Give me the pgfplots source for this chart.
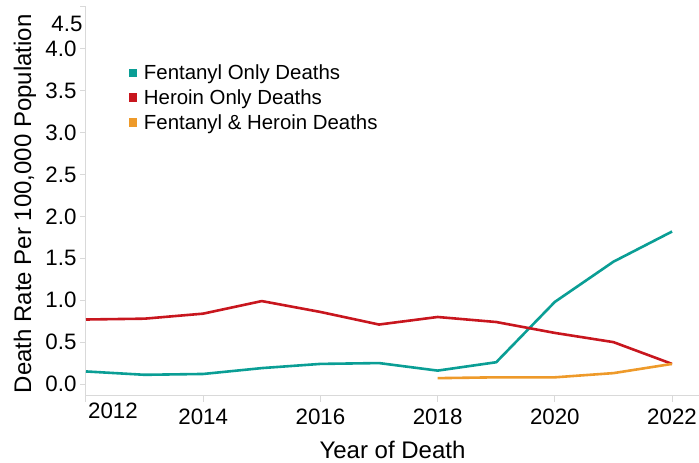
\documentclass[border=0pt]{standalone}
\usepackage{fontspec}
\setmainfont{Liberation Sans}
\usepackage{pgfplots}
\pgfplotsset{compat=1.18}
\definecolor{cfent}{RGB}{10,158,149}
\definecolor{cher}{RGB}{200,22,30}
\definecolor{cboth}{RGB}{238,154,42}
\definecolor{cax}{RGB}{217,217,217}
\begin{document}
\begin{tikzpicture}[x=1pt,y=1pt]
\path[use as bounding box] (-86,-67) rectangle (613,396);
\begin{axis}[
  at={(0,0)}, anchor=south west,
  scale only axis, width=613pt, height=389pt,
  xmin=2012, xmax=2022.46, ymin=-0.143, ymax=4.5,
  axis x line*=bottom, axis y line*=left,
  axis line style={cax, line width=1pt, -},
  tick style={cax, line width=1pt},
  tick align=outside, major tick length=6pt,
  /pgf/number format/assume math mode=true,
  ticklabel style={font=\fontsize{22.3}{26}\selectfont, text=black},
  xticklabel style={yshift=-3pt},
  xtick={2012,2014,2016,2018,2020,2022},
  xticklabels={,2014,2016,2018,2020,2022},
  extra x ticks={2012.46}, extra x tick labels={2012},
  extra x tick style={major tick length=0pt},
  ytick={0,0.5,1,1.5,2,2.5,3,3.5,4,4.5},
  yticklabels={0.0,0.5,1.0,1.5,2.0,2.5,3.0,3.5,4.0,},
  extra y ticks={4.30}, extra y tick labels={4.5},
  extra y tick style={major tick length=0pt},
  xlabel={Year of Death},
  ylabel={Death Rate Per 100,000 Population},
  label style={font=\fontsize{24}{28}\selectfont},
  xlabel style={at={(axis description cs:0.5,0)}, anchor=center, yshift=-54pt},
  ylabel style={at={(axis description cs:0,0.494)}, anchor=center, yshift=61pt},
  legend style={draw=none, fill=none, at={(axis description cs:0.06,0.86)}, anchor=north west,
    font=\fontsize{20.4}{24}\selectfont, row sep=6.5pt, nodes={inner sep=1pt}},
  legend cell align=left,
  legend image code/.code={\path[draw=none,fill=none] (0pt,0pt) -- (17pt,0pt); \fill[#1, draw=none] (3pt,-4.2pt) rectangle (11.4pt,4.2pt);},
  every axis plot/.append style={line width=2.6pt, line join=round},
]
\addplot[cfent, mark=none] coordinates {
 (2012,0.15) (2013,0.11) (2014,0.12) (2015,0.19) (2016,0.24) (2017,0.25)
 (2018,0.16) (2019,0.26) (2020,0.98) (2021,1.46) (2022,1.82)};
\addlegendentry{Fentanyl Only Deaths}
\addplot[cher, mark=none] coordinates {
 (2012,0.77) (2013,0.78) (2014,0.84) (2015,0.99) (2016,0.86) (2017,0.71)
 (2018,0.80) (2019,0.74) (2020,0.61) (2021,0.50) (2022,0.24)};
\addlegendentry{Heroin Only Deaths}
\addplot[cboth, mark=none] coordinates {
 (2018,0.07) (2019,0.08) (2020,0.08) (2021,0.13) (2022,0.24)};
\addlegendentry{Fentanyl \& Heroin Deaths}
\end{axis}
\end{tikzpicture}
\end{document}
